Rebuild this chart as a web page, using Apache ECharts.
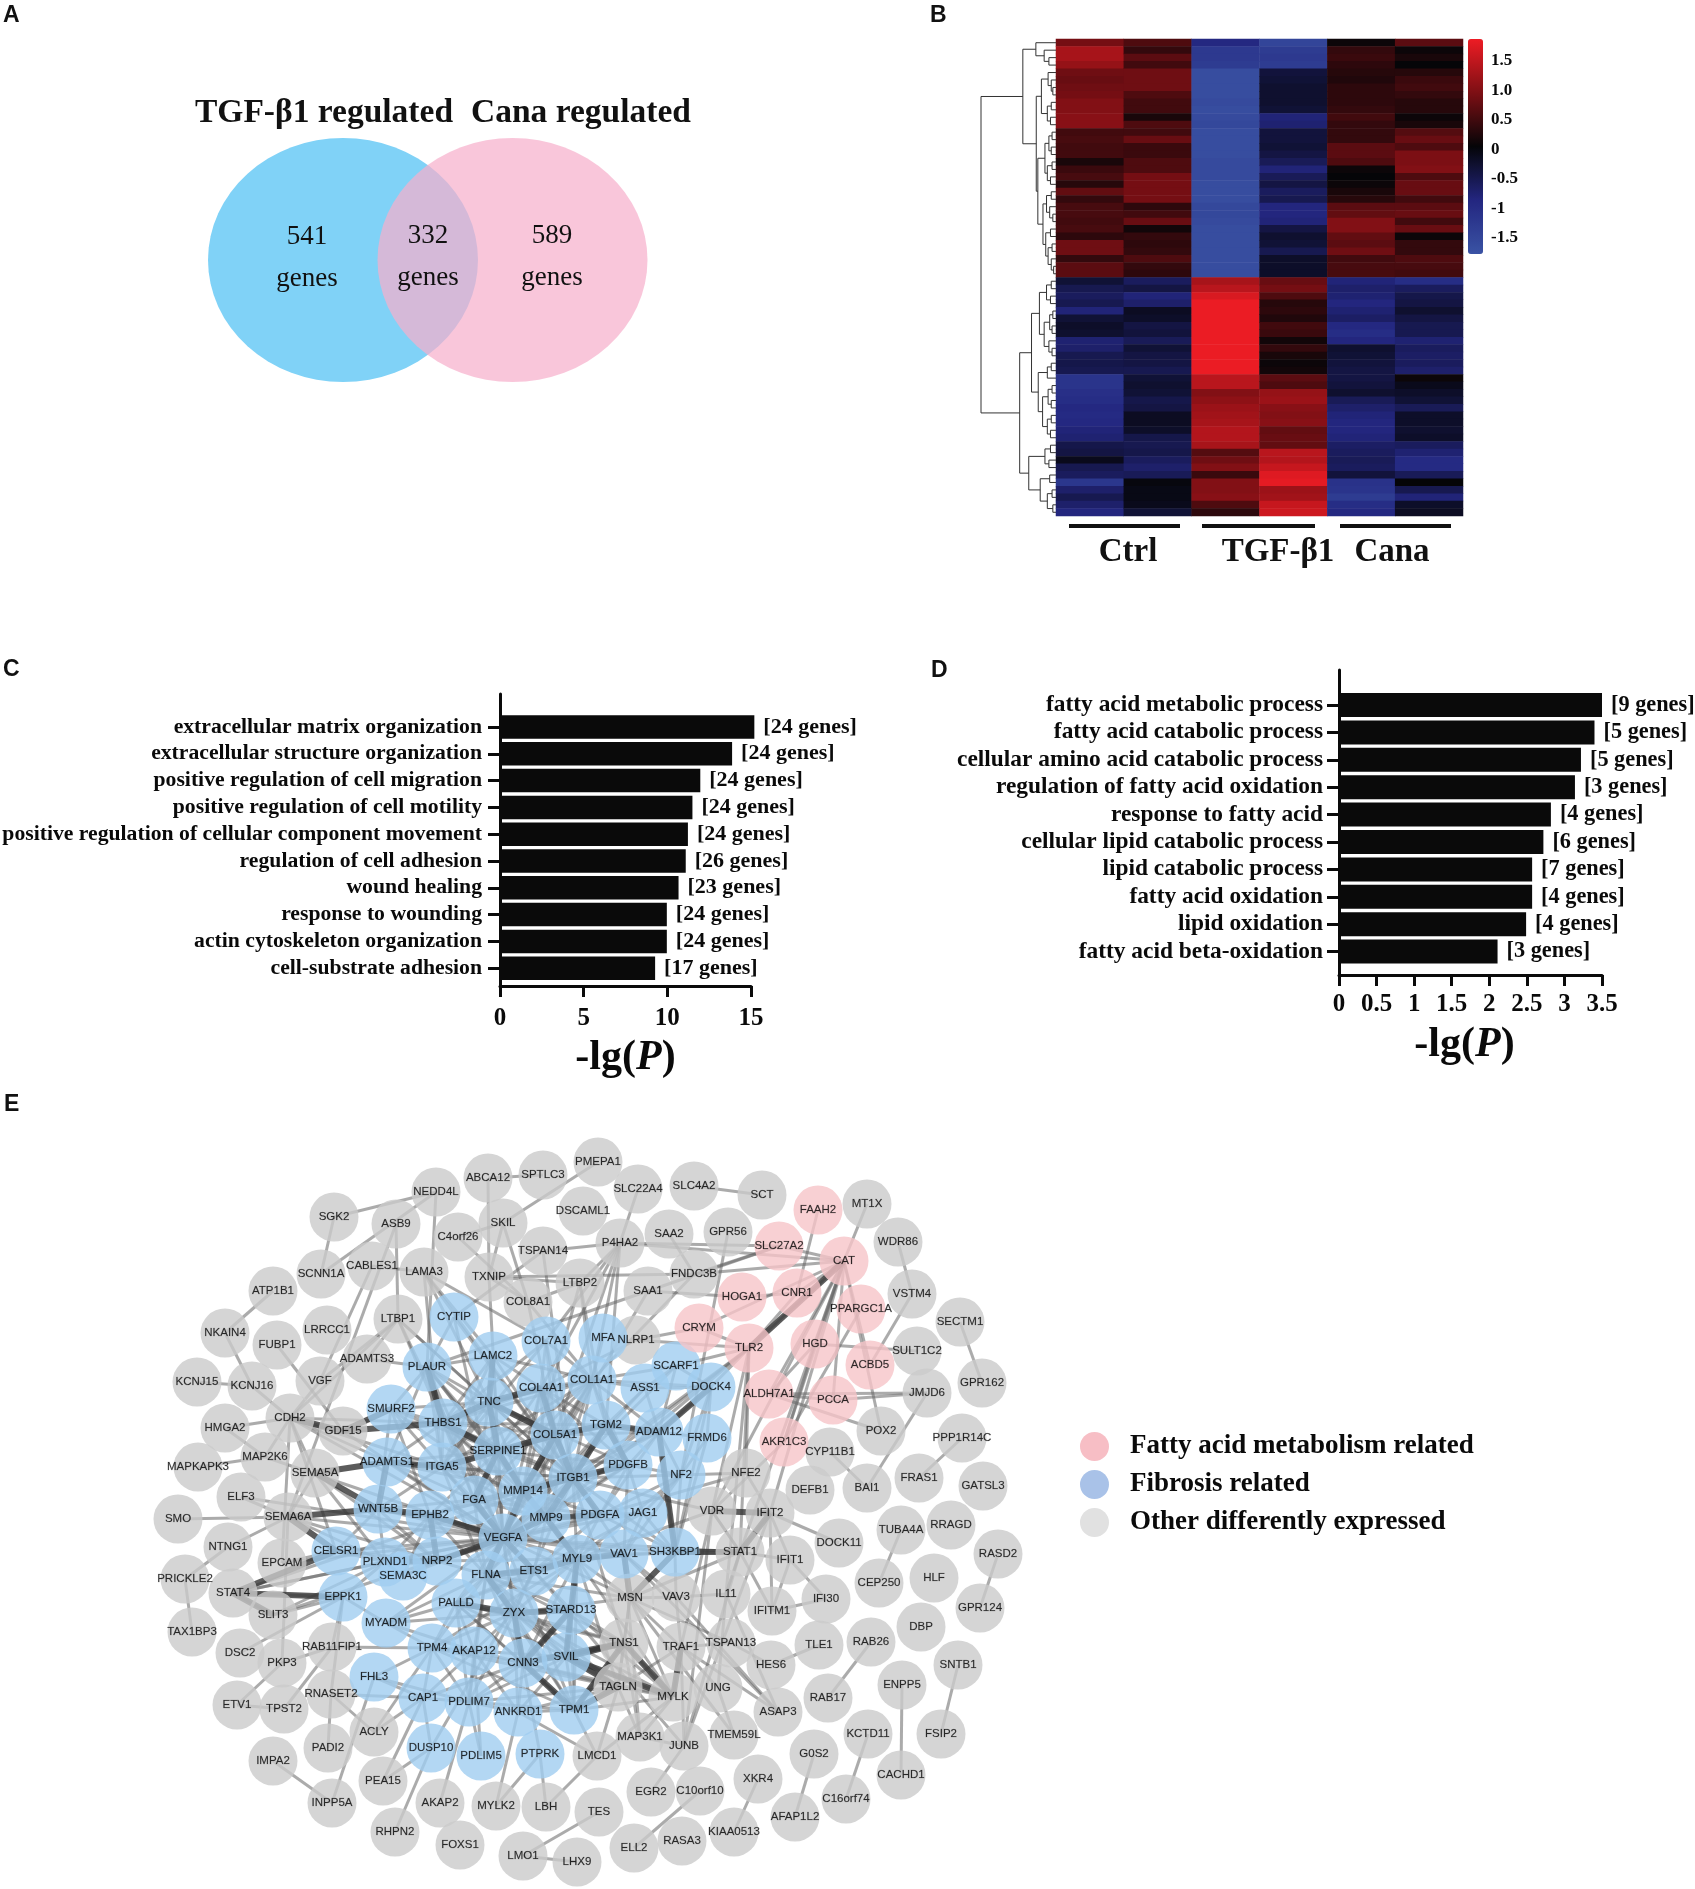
<!DOCTYPE html>
<html><head><meta charset="utf-8">
<style>html,body{margin:0;padding:0;background:#fff}#c{width:1695px;height:1889px}</style>
<script src="https://cdn.jsdelivr.net/npm/echarts@6/dist/echarts.min.js"></script>
</head><body><div id="c"></div>
<script>
// ---------- Panel A
const vennCounts = ['541','332','589'];
// ---------- Panel B (columns of the heat map, top row first)
const heatColumns = ['Ctrl1','Ctrl2','TGF1','TGF2','Cana1','Cana2'];
const ctrl1 = [0.9,1.3,1.3,1.15,0.85,0.8,0.85,0.9,1.0,1.0,1.05,1.05,0.5,0.55,0.5,0.5,0.2,0.45,0.55,0.3,0.75,0.4,0.55,0.55,0.5,0.55,0.35,0.85,0.85,0.4,0.7,0.7,
 -0.3,-0.5,-0.6,-0.5,-0.8,-0.3,-0.2,-0.25,-0.75,-0.7,-0.5,-0.45,-0.5,-1.15,-1.15,-1.05,-1.0,-0.9,-0.95,-0.9,-0.8,-0.75,-0.45,-0.4,-0.1,-0.5,-0.6,-1.2,-0.7,-0.5,-0.7,-0.85];
const ctrl2 = [0.6,0.4,0.7,0.5,0.85,0.85,0.85,0.6,0.5,0.5,0.2,0.6,0.5,0.8,0.45,0.45,0.6,0.6,0.9,0.9,0.9,0.9,0.35,0.5,0.8,0.15,0.4,0.35,0.4,0.6,0.4,0.35,
 -0.6,-0.4,-0.8,-0.7,-0.15,-0.2,-0.4,-0.35,-0.55,-0.3,-0.4,-0.4,-0.5,-0.3,-0.25,-0.3,-0.45,-0.4,-0.15,-0.15,-0.2,-0.45,-0.5,-0.45,-0.6,-0.7,-0.55,0,-0.05,-0.05,-0.1,-0.3];
const tgf1 = [-0.9,-1.25,-1.25,-1.3,-1.65,-1.65,-1.65,-1.65,-1.6,-1.65,-1.6,-1.55,-1.65,-1.65,-1.65,-1.65,-1.6,-1.6,-1.6,-1.65,-1.65,-1.65,-1.55,-1.55,-1.6,-1.65,-1.65,-1.65,-1.65,-1.65,-1.65,-1.65,
 1.3,1.45,1.7,1.85,1.85,1.85,1.85,1.85,1.85,1.85,1.85,1.85,1.85,1.45,1.45,1.0,1.1,1.2,1.25,1.3,1.4,1.4,1.3,0.65,0.85,1.0,0.45,1.0,1.0,1.05,0.6,0.35];
const tgf2 = [-1.5,-1.3,-1.25,-1.3,-0.35,-0.3,-0.25,-0.25,-0.25,-0.3,-0.8,-0.75,-0.35,-0.35,-0.3,-0.4,-0.55,-0.8,-0.55,-0.4,-0.6,-0.5,-0.85,-0.85,-0.8,-0.4,-0.25,-0.3,-0.5,-0.2,-0.2,-0.2,
 0.8,0.9,0.6,0.3,0.35,0.25,0.5,0.45,0.15,0.4,0.2,0.1,0.15,0.7,0.6,1.15,1.2,1.05,1.0,1.05,0.75,0.8,0.75,1.45,1.4,1.55,1.75,1.8,1.2,1.25,1.55,1.6];
const cana1 = [0.1,0.4,0.45,0.35,0.3,0.25,0.35,0.35,0.35,0.4,0.5,0.4,0.4,0.4,0.7,0.7,0.6,0.1,0.05,0.1,0.2,0.3,0.7,0.75,1.0,1.0,0.75,0.7,0.85,0.5,0.55,0.55,
 -0.8,-0.7,-0.75,-0.85,-0.75,-0.65,-0.9,-1.0,-0.85,-0.25,-0.3,-0.35,-0.4,-0.4,-0.35,-0.25,-0.55,-0.7,-0.8,-0.85,-0.85,-0.8,-0.65,-0.6,-0.55,-0.6,-0.35,-1.1,-1.15,-1.3,-1.0,-0.9];
const cana2 = [0.7,0.1,0.2,0.05,0.3,0.45,0.5,0.4,0.3,0.3,0.1,0.2,0.65,0.8,0.6,0.95,0.95,1.0,0.6,0.8,0.8,0.5,0.7,0.8,0.5,0.8,0.1,0.4,0.4,0.6,0.55,0.5,
 -1.0,-0.6,-0.45,-0.4,-0.25,-0.4,-0.5,-0.5,-0.75,-0.6,-0.65,-0.6,-0.7,0.1,-0.1,-0.2,-0.3,-0.55,-0.2,-0.2,-0.25,-0.2,-0.6,-0.75,-0.95,-0.95,-0.55,0.05,-0.5,-0.8,-0.2,-0.15];
const colorbarTicks = [1.5,1,0.5,0,-0.5,-1,-1.5];
const colorbarLabels = ['1.5','1.0','0.5','0','-0.5','-1','-1.5'];
const upperTree = [84,[51,0,[30,1,[18,2,3]]],[50,[37,[20,4,[12,5,[8,6,7]]],[22,[12,8,9],[14,10,11]]],
 [46,[28,[18,[10,12,13],[12,14,15]],[22,[10,16,17],[14,18,19]]],[33,[24,[12,20,21],[16,22,[8,23,24]]],[26,[14,25,26],[20,[10,27,28],[12,29,[6,30,31]]]]]]]];
const lowerTree = [92,[62,[42,[24,[12,32,33],[14,34,35]],[30,[16,[8,36,37],[10,38,39]],[18,40,[10,41,42]]]],[45,[22,[12,43,44],45],[34,[20,[10,46,47],[12,48,49]],[22,[12,50,51],[14,52,53]]]]],
 [69,[28,[14,54,55],[18,56,57]],[40,[16,58,59],[22,[10,60,61],[8,62,63]]]]];
const rootHeight = 190;
// ---------- Panel C
const fibrosisTerms = ['extracellular matrix organization','extracellular structure organization','positive regulation of cell migration','positive regulation of cell motility','positive regulation of cellular component movement','regulation of cell adhesion','wound healing','response to wounding','actin cytoskeleton organization','cell-substrate adhesion'];
const fibrosisP = [15.2,13.87,11.97,11.5,11.23,11.1,10.67,9.97,9.97,9.27];
const fibrosisGenes = [24,24,24,24,24,26,23,24,24,17];
// ---------- Panel D
const fattyTerms = ['fatty acid metabolic process','fatty acid catabolic process','cellular amino acid catabolic process','regulation of fatty acid oxidation','response to fatty acid','cellular lipid catabolic process','lipid catabolic process','fatty acid oxidation','lipid oxidation','fatty acid beta-oxidation'];
const fattyP = [3.5,3.4,3.22,3.14,2.82,2.72,2.57,2.57,2.49,2.11];
const fattyGenes = [9,5,5,3,4,6,7,4,4,3];
// ---------- Panel E: network layout coordinates, one entry per gene
const fattyNodes = {FAAH2:[818,1210],SLC27A2:[779,1246],CAT:[844,1261],HOGA1:[742,1297],CNR1:[797,1293],PPARGC1A:[861,1309],CRYM:[699,1328],TLR2:[749,1348],HGD:[815,1344],ACBD5:[870,1365],ALDH7A1:[769,1394],PCCA:[833,1400],AKR1C3:[784,1442]};
const fibrosisNodes = {CYTIP:[454,1317],COL7A1:[546,1341],MFA:[603,1338],PLAUR:[427,1367],LAMC2:[493,1356],COL4A1:[541,1388],COL1A1:[592,1380],TNC:[489,1402],SMURF2:[391,1409],THBS1:[443,1423],COL5A1:[555,1435],TGM2:[606,1425],SERPINE1:[498,1451],ADAMTS1:[387,1462],ITGA5:[442,1467],ITGB1:[573,1478],MMP14:[523,1491],FGA:[474,1500],WNT5B:[378,1509],EPHB2:[430,1515],MMP9:[546,1518],PDGFA:[600,1515],VEGFA:[503,1538],CELSR1:[336,1551],PLXND1:[385,1562],NRP2:[437,1561],MYL9:[577,1559],ETS1:[534,1571],FLNA:[486,1575],SEMA3C:[403,1576],EPPK1:[343,1597],PALLD:[456,1603],ZYX:[514,1613],STARD13:[571,1610],MYADM:[386,1623],TPM4:[432,1648],AKAP12:[474,1651],SVIL:[566,1657],CNN3:[523,1663],FHL3:[374,1677],CAP1:[423,1698],PDLIM7:[469,1702],ANKRD1:[518,1712],TPM1:[574,1710],DUSP10:[431,1748],PDLIM5:[481,1756],PTPRK:[540,1754],SCARF1:[676,1366],ASS1:[645,1388],DOCK4:[711,1387],ADAM12:[659,1432],FRMD6:[707,1438],PDGFB:[628,1465],NF2:[681,1475],JAG1:[643,1513],VAV1:[624,1554],SH3KBP1:[675,1552]};
const otherNodes = {ABCA12:[488,1178],SPTLC3:[543,1175],PMEPA1:[598,1162],NEDD4L:[436,1192],SGK2:[334,1217],ASB9:[396,1224],C4orf26:[458,1237],SKIL:[503,1223],DSCAML1:[583,1211],TSPAN14:[543,1251],SCNN1A:[321,1274],CABLES1:[372,1266],LAMA3:[424,1272],TXNIP:[489,1277],LTBP2:[580,1283],COL8A1:[528,1302],ATP1B1:[273,1291],LTBP1:[398,1319],LRRCC1:[327,1330],NKAIN4:[225,1333],FUBP1:[277,1345],ADAMTS3:[367,1359],VGF:[320,1381],KCNJ15:[197,1382],KCNJ16:[252,1386],CDH2:[290,1418],HMGA2:[225,1428],GDF15:[343,1431],MAP2K6:[265,1457],MAPKAPK3:[198,1467],SEMA5A:[315,1473],ELF3:[241,1497],SEMA6A:[288,1517],SMO:[178,1519],NTNG1:[228,1547],EPCAM:[282,1563],PRICKLE2:[185,1579],STAT4:[233,1593],SLIT3:[273,1615],TAX1BP3:[192,1632],RAB11FIP1:[332,1647],DSC2:[240,1653],PKP3:[282,1663],RNASET2:[331,1694],ETV1:[237,1705],TPST2:[284,1709],ACLY:[374,1732],PADI2:[328,1748],IMPA2:[273,1761],PEA15:[383,1781],INPP5A:[332,1803],AKAP2:[440,1803],MYLK2:[496,1806],LBH:[546,1807],RHPN2:[395,1832],FOXS1:[460,1845],LMO1:[523,1856],LHX9:[577,1862],
 SLC22A4:[638,1189],SLC4A2:[694,1186],SCT:[762,1195],MT1X:[867,1204],GPR56:[728,1232],P4HA2:[620,1243],SAA2:[669,1234],WDR86:[898,1242],FNDC3B:[694,1274],SAA1:[648,1291],VSTM4:[912,1294],SECTM1:[960,1322],NLRP1:[636,1340],SULT1C2:[917,1351],GPR162:[982,1383],JMJD6:[927,1393],POX2:[881,1431],PPP1R14C:[962,1438],CYP11B1:[830,1452],NFE2:[746,1473],FRAS1:[919,1478],BAI1:[867,1488],DEFB1:[810,1490],GATSL3:[983,1486],VDR:[712,1511],IFIT2:[770,1513],
 RRAGD:[951,1525],TUBA4A:[901,1530],DOCK11:[839,1543],STAT1:[740,1552],RASD2:[998,1554],IFIT1:[790,1560],HLF:[934,1578],CEP250:[879,1583],IL11:[726,1594],VAV3:[676,1597],MSN:[630,1598],IFI30:[826,1599],GPR124:[980,1608],IFITM1:[772,1611],DBP:[921,1627],RAB26:[871,1642],TSPAN13:[731,1643],TNS1:[624,1643],TRAF1:[681,1647],TLE1:[819,1645],HES6:[771,1665],SNTB1:[958,1665],ENPP5:[902,1685],TAGLN:[618,1687],UNG:[718,1688],MYLK:[673,1697],RAB17:[828,1698],ASAP3:[778,1712],FSIP2:[941,1734],KCTD11:[868,1734],MAP3K1:[640,1737],TMEM59L:[734,1735],LMCD1:[597,1756],JUNB:[684,1746],G0S2:[814,1754],CACHD1:[901,1775],XKR4:[758,1779],EGR2:[651,1792],C10orf10:[700,1791],C16orf74:[846,1799],TES:[599,1812],AFAP1L2:[795,1817],KIAA0513:[734,1832],RASA3:[682,1841],ELL2:[634,1848]};
const edgeLists = [
 'SGK2:NEDD4L SCNN1A','SCNN1A:NEDD4L','ABCA12:SPTLC3 TXNIP','SKIL:PMEPA1 C4orf26 COL8A1 TXNIP','ATP1B1:NKAIN4','NKAIN4:KCNJ16','KCNJ15:KCNJ16','KCNJ16:CDH2','HMGA2:CDH2 MAP2K6','CDH2:MAP2K6 VGF LTBP1 GDF15 SEMA5A VEGFA ITGA5 THBS1 CELSR1 FGA','MAP2K6:MAPKAPK3 VEGFA','SMO:SEMA6A','ASB9:LTBP1 SEMA6A','NEDD4L:PLAUR','C4orf26:COL8A1','CABLES1:LAMA3 VGF','FUBP1:GDF15','LTBP1:VGF ADAMTS3 VEGFA THBS1 TNC ITGB1','ADAMTS3:PLAUR','LAMA3:LAMC2 ITGB1 ITGA5 COL7A1 TNC','TSPAN14:P4HA2 ITGB1 CYTIP','TXNIP:COL8A1 VEGFA','COL8A1:LTBP2 COL5A1 COL1A1','LTBP2:TGM2 COL1A1 TXNIP P4HA2 MMP14',
 'SLC4A2:SCT','SLC22A4:P4HA2','P4HA2:SLC27A2 CAT COL1A1 COL4A1 COL7A1 COL5A1 TGM2','FNDC3B:SLC27A2 COL1A1 TXNIP','SAA2:FNDC3B','SAA1:HOGA1 SLC27A2 VEGFA PLAUR','GPR56:NF2','MT1X:CAT','FAAH2:CNR1','SLC27A2:CAT','WDR86:VSTM4','SECTM1:GPR162','VSTM4:ACBD5','SULT1C2:HGD','ALDH7A1:JMJD6 PCCA HGD CAT','PCCA:JMJD6 CAT','JMJD6:BAI1','PPP1R14C:FRAS1','CYP11B1:BAI1','POX2:ALDH7A1 CAT','CAT:CNR1 CRYM TLR2 HGD AKR1C3 ACBD5 IFIT2 FNDC3B STAT1 VDR','HOGA1:CNR1','CRYM:TLR2','TLR2:CNR1 STAT1 NFE2 VEGFA DOCK4 ITGB1 MMP9 VDR IL11 SCARF1','AKR1C3:PPARGC1A HGD VDR','NFE2:NF2 IFIT2 PDGFA','NLRP1:TLR2 CRYM',
 'TUBA4A:CEP250','RASD2:GPR124','RAB26:RAB17','SNTB1:FSIP2','ENPP5:CACHD1','KCTD11:C16orf74','G0S2:AFAP1L2','XKR4:KIAA0513','C10orf10:ELL2','EGR2:JUNB','TES:LMO1','LMO1:LHX9','IMPA2:INPP5A','INPP5A:FHL3','MYLK2:PTPRK ANKRD1','LBH:PTPRK LMCD1','AKAP2:PDLIM7','RHPN2:DUSP10','PEA15:CAP1 DUSP10','ACLY:CAP1 TPM4','PADI2:RNASET2','RNASET2:CAP1 ACLY EPPK1','TPST2:RAB11FIP1 ETV1','ETV1:PKP3','PKP3:RAB11FIP1 SEMA6A','DSC2:EPPK1','TAX1BP3:PRICKLE2','NTNG1:SEMA6A PRICKLE2','STAT4:EPPK1 VEGFA SLIT3 ITGB1 PLXND1','SLIT3:EPPK1 VEGFA PLXND1','RAB11FIP1:TPM4 EPPK1','EPCAM:CDH2 VEGFA CELSR1','SEMA6A:PLXND1 NRP2 VEGFA SEMA5A','SEMA5A:PLXND1 NRP2','ELF3:SEMA6A VEGFA',
 'IFI30:IFITM1','IFIT1:STAT1 IFIT2 IFITM1 IFI30','IFIT2:DOCK11 IFITM1 STAT1','STAT1:VDR IFITM1 VEGFA SH3KBP1 MSN IL11','IL11:VAV3 STAT1 UNG','HES6:TLE1 TSPAN13','ASAP3:VAV3 TRAF1 VAV1 IL11','VDR:STAT1 ITGB1 TRAF1 MYL9','UNG:TRAF1 TMEM59L','TSPAN13:TRAF1 MSN','JUNB:TRAF1 MAP3K1 ETS1 VDR STAT1 IFIT2','MAP3K1:MYLK TAGLN TNS1 VAV1','TMEM59L:MSN','LMCD1:TAGLN TPM1 MYLK','VAV3:VAV1 TRAF1 SH3KBP1','MSN:VEGFA FLNA MYL9 ZYX TAGLN TRAF1 MYLK TNS1 VAV3','TNS1:ZYX FLNA ITGB1 MYLK TPM1 PALLD CNN3 TAGLN STARD13 SVIL','TAGLN:MYLK TPM1 TPM4 CNN3 MYL9 SVIL PDLIM7 ZYX ANKRD1 TRAF1 FLNA','MYLK:MYL9 TPM1 CNN3 TRAF1 STARD13 SVIL ZYX',
 'VEGFA:ITGB1 MMP14 MMP9 FGA THBS1 SERPINE1 COL1A1 COL4A1 COL5A1 TNC ITGA5 PLAUR EPHB2 NRP2 FLNA ETS1 PDGFA PDGFB MYL9 ZYX PALLD WNT5B ADAMTS1 SEMA3C CELSR1 TPM1 CNN3 SH3KBP1 JAG1 VAV1 SMURF2 PLXND1 GDF15 ASS1 TGM2 CYTIP SCARF1',
 'ITGB1:COL1A1 COL4A1 COL5A1 COL7A1 FGA FLNA ITGA5 THBS1 LAMC2 TNC PLAUR SERPINE1 MMP14 MMP9 ZYX TGM2 ADAM12 PDGFB PDGFA NF2 VAV1 MYL9 SH3KBP1 CYTIP ADAMTS1',
 'SERPINE1:PLAUR THBS1 MMP14 MMP9 ITGA5 TNC COL1A1 FGA SMURF2 LAMC2 COL5A1 ADAMTS1 COL4A1 TGM2 EPHB2 PDGFB',
 'THBS1:TNC ITGA5 COL1A1 COL4A1 COL5A1 FGA MMP14 MMP9 ADAMTS1 LAMC2 PLAUR SMURF2 COL7A1 TGM2',
 'TNC:COL1A1 COL5A1 COL4A1 LAMC2 MMP14 ITGA5 PLAUR FGA PDGFB SMURF2',
 'COL1A1:COL4A1 COL5A1 COL7A1 MMP14 MMP9 ITGA5 TGM2 LAMC2 FGA ADAM12 PDGFB MFA ASS1 DOCK4 SCARF1',
 'COL4A1:COL5A1 COL7A1 LAMC2 MMP14 MMP9 PDGFB TGM2 NLRP1','COL5A1:COL7A1 MMP14 TGM2 ADAM12 MMP9','MMP14:MMP9 PLAUR ITGA5 ADAM12 ADAMTS1 PDGFA FGA EPHB2','MMP9:PLAUR ITGA5 FGA PDGFA PDGFB ETS1 MYL9 FLNA SMURF2','PLAUR:ITGA5 FGA CYTIP LAMC2 SMURF2 ADAMTS1','ITGA5:FGA ADAMTS1 WNT5B COL7A1 LAMC2 FLNA','FGA:EPHB2 WNT5B FLNA PDGFA','WNT5B:EPHB2 PLXND1 CELSR1 NRP2 VAV1 SMURF2','EPHB2:NRP2 PLXND1 FLNA SEMA3C SMURF2 PDGFB','NRP2:PLXND1 SEMA3C FLNA CELSR1 PDGFA MYL9','PLXND1:SEMA3C CELSR1 EPPK1','PDGFA:PDGFB JAG1 NF2 ETS1 MYL9 SH3KBP1','PDGFB:ADAM12 NF2 TGM2 JAG1 VAV1','JAG1:NF2 VAV1 SH3KBP1 ETS1','SH3KBP1:VAV1 NF2 DOCK4 MYL9 ADAM12 FRMD6','ADAM12:ASS1 SCARF1 DOCK4 TGM2 FRMD6 NF2 PDGFA','DOCK4:SCARF1 FRMD6 NF2 ASS1','ASS1:SCARF1 TGM2','NF2:FRMD6 VAV1 MYL9',
 'FLNA:ZYX PALLD MYL9 ETS1 TPM4 AKAP12 CNN3 STARD13 PDLIM7 TPM1 SVIL MYADM VAV1','MYL9:ZYX STARD13 ETS1 SVIL TPM1 CNN3 TPM4 VAV1 PALLD','ZYX:PALLD ETS1 STARD13 SVIL CNN3 TPM4 AKAP12 PDLIM7 TPM1 ANKRD1 MYADM','PALLD:ETS1 MYADM TPM4 AKAP12 CNN3 PDLIM7 SVIL TPM1','STARD13:SVIL CNN3 TPM1 ETS1','SVIL:CNN3 TPM1 TPM4 ANKRD1 PDLIM7','CNN3:TPM4 TPM1 PDLIM7 AKAP12 ANKRD1 CAP1','TPM4:AKAP12 TPM1 PDLIM7 CAP1 MYADM FHL3','AKAP12:CAP1 PDLIM7 ANKRD1 MYADM','PDLIM7:CAP1 ANKRD1 FHL3 PDLIM5 TPM1','CAP1:FHL3 DUSP10','ANKRD1:TPM1 LMCD1','PDLIM5:AKAP12','DUSP10:ETS1','PTPRK:CNN3','MYADM:EPPK1 VEGFA'
];
const heavyEdgeLists = ['THBS1:SERPINE1 TNC PLAUR','SERPINE1:TNC COL5A1 ITGA5 FGA MMP14','TNC:COL5A1 COL4A1 LAMC2','COL5A1:COL4A1 TGM2 ITGB1 MMP14','TGM2:ITGB1 ADAM12 PDGFB','ITGB1:MMP14 PDGFB MMP9 PDGFA','MMP14:VEGFA MMP9','MMP9:VEGFA PDGFA MYL9','VEGFA:EPHB2 FGA ETS1 FLNA NRP2','EPHB2:WNT5B NRP2','ADAMTS1:SEMA5A WNT5B ITGA5','SEMA5A:WNT5B','GDF15:SMURF2 CDH2 THBS1','SEMA6A:WNT5B CELSR1','ZYX:PALLD FLNA STARD13 CNN3','STARD13:MYL9 SVIL CNN3','SVIL:TNS1 MYLK TAGLN','CNN3:TNS1 TPM1','TPM1:TAGLN TNS1','MYLK:TNS1 TRAF1','VAV1:MSN MYL9','SH3KBP1:STAT1 MSN ADAM12','STAT4:SLIT3 EPPK1 CELSR1','ETS1:MYL9 FLNA','PLXND1:NRP2','ADAM12:DOCK4','TLR2:CAT','VDR:IFIT2','IFIT2:STAT1'];

// ---------- build
const heatData = [];
[ctrl1,ctrl2,tgf1,tgf2,cana1,cana2].forEach((col,c)=>col.forEach((v,r)=>heatData.push([c,r,v])));
const rowNames = ctrl1.map((_,i)=>String(i));
const dendroSegments = [];
function walk(n){
  if(typeof n==='number') return {d:0,y:n+0.5};
  const a=walk(n[1]), b=walk(n[2]);
  dendroSegments.push([a.d,a.y,n[0],b.y,b.d]);
  return {d:n[0],y:(a.y+b.y)/2};
}
const ua=walk(upperTree), la=walk(lowerTree);
dendroSegments.push([ua.d,ua.y,rootHeight,la.y,la.d]);

const catFatty='Fatty acid metabolism related', catFib='Fibrosis related', catOther='Other differently expressed';
const nodes=[];
const addNodes=(o,ci)=>Object.keys(o).forEach(k=>nodes.push({name:k,value:o[k],category:ci}));
addNodes(otherNodes,2); addNodes(fibrosisNodes,1); addNodes(fattyNodes,0);
const known=new Set(nodes.map(n=>n.name));
const links=[];
edgeLists.forEach(s=>{const [h,t]=s.split(':');t.split(' ').forEach(b=>{if(known.has(h)&&known.has(b)&&h!==b)links.push({source:h,target:b});});});
heavyEdgeLists.forEach(s=>{const [h,t]=s.split(':');t.split(' ').forEach(b=>{if(known.has(h)&&known.has(b)&&h!==b)links.push({source:h,target:b,lineStyle:{width:6,color:'#333',opacity:0.8}});});});

const serif='"Liberation Serif"';
const black='#0a0a0a';
const hiddenAxis=(o)=>Object.assign({show:false},o);
const fixedGrid=(left,top,width,height)=>({left,top,width,height,outerBoundsMode:'none'});
function gAxisName(){return {a:{fontFamily:serif,fontWeight:'bold',fontSize:42,color:black},b:{fontFamily:serif,fontWeight:'bold',fontStyle:'italic',fontSize:42,color:black}};}
function txt(text,x,y,font,align){return {type:'text',silent:true,style:{text,x,y,font,fill:'#111',textAlign:align||'left',textVerticalAlign:'middle'}};}
function groupBar(x1,x2,y){return {type:'line',silent:true,shape:{x1,y1:y,x2,y2:y},style:{stroke:'#111',lineWidth:4}};}

const option={
 animation:false,backgroundColor:'#fff',
 grid:[
  fixedGrid(0,0,850,600),          //0 venn
  fixedGrid(1056,39,407,477),      //1 heat
  fixedGrid(1468,39,15,215),       //2 colorbar
  fixedGrid(981,39,75,477),        //3 dendro
  fixedGrid(500,713.6,251,268),    //4 C bars
  fixedGrid(500,694,251,292),      //5 C axes
  fixedGrid(1339,691.3,263,274),   //6 D bars
  fixedGrid(1339,670,263,305),     //7 D axes
  fixedGrid(140,1100,900,789)      //8 network
 ],
 xAxis:[
  hiddenAxis({gridIndex:0,type:'value',min:0,max:850}),
  hiddenAxis({gridIndex:1,type:'category',data:heatColumns}),
  hiddenAxis({gridIndex:2,type:'value',min:0,max:1}),
  hiddenAxis({gridIndex:3,type:'value',min:0,max:rootHeight,inverse:true}),
  hiddenAxis({gridIndex:4,type:'value',min:0,max:15}),
  {gridIndex:5,type:'value',min:0,max:15,interval:5,splitLine:{show:false},
   axisLine:{show:true,lineStyle:{color:black,width:3}},axisTick:{show:true,length:11,lineStyle:{color:black,width:3}},
   axisLabel:{fontFamily:serif,fontWeight:'bold',fontSize:25,color:black,margin:20},
   name:'{a|-lg(}{b|P}{a|)}',nameLocation:'middle',nameGap:51,nameTextStyle:{rich:gAxisName()}},
  hiddenAxis({gridIndex:6,type:'value',min:0,max:3.5}),
  {gridIndex:7,type:'value',min:0,max:3.5,interval:0.5,splitLine:{show:false},
   axisLine:{show:true,lineStyle:{color:black,width:3}},axisTick:{show:true,length:11,lineStyle:{color:black,width:3}},
   axisLabel:{fontFamily:serif,fontWeight:'bold',fontSize:25,color:black,margin:17,hideOverlap:false,formatter:v=>String(v)},
   name:'{a|-lg(}{b|P}{a|)}',nameLocation:'middle',nameGap:49,nameTextStyle:{padding:[0,12,0,0],rich:gAxisName()}},
  hiddenAxis({gridIndex:8,type:'value',min:140,max:1040})
 ],
 yAxis:[
  hiddenAxis({gridIndex:0,type:'value',min:0,max:600,inverse:true}),
  hiddenAxis({gridIndex:1,type:'category',data:rowNames,inverse:true}),
  {gridIndex:2,type:'value',min:-1.775,max:1.87,position:'right',splitLine:{show:false},axisLine:{show:false},axisTick:{show:false},
   axisLabel:{customValues:colorbarTicks,margin:8,fontFamily:serif,fontWeight:'bold',fontSize:17,color:black,
    formatter:v=>colorbarLabels[colorbarTicks.indexOf(v)]}},
  hiddenAxis({gridIndex:3,type:'value',min:0,max:rowNames.length,inverse:true}),
  {gridIndex:4,type:'category',inverse:true,data:fibrosisTerms,axisLine:{show:false},
   axisTick:{show:true,alignWithLabel:true,length:12,lineStyle:{color:black,width:3}},
   axisLabel:{interval:0,margin:18,fontFamily:serif,fontWeight:'bold',fontSize:21.7,color:black,padding:[0,0,4,0]}},
  {gridIndex:5,type:'value',min:0,max:1,axisLine:{show:true,lineStyle:{color:black,width:3}},axisTick:{show:false},axisLabel:{show:false},splitLine:{show:false}},
  {gridIndex:6,type:'category',inverse:true,data:fattyTerms,axisLine:{show:false},
   axisTick:{show:true,alignWithLabel:true,length:12,lineStyle:{color:black,width:3}},
   axisLabel:{interval:0,margin:16,fontFamily:serif,fontWeight:'bold',fontSize:23.4,color:black}},
  {gridIndex:7,type:'value',min:0,max:1,axisLine:{show:true,lineStyle:{color:black,width:3}},axisTick:{show:false},axisLabel:{show:false},splitLine:{show:false}},
  hiddenAxis({gridIndex:8,type:'value',min:1100,max:1889,inverse:true})
 ],
 visualMap:[{type:'continuous',seriesIndex:3,dimension:2,min:-1.775,max:1.87,left:1468,top:39,padding:0,itemWidth:15,itemHeight:215,
   calculable:false,showLabel:false,text:null,inRange:{color:['#3A53A4','#232680','#050508','#7d0f14','#ED1C24']}}],
 legend:{orient:'vertical',left:1080,top:1432,padding:0,itemWidth:29,itemHeight:29,itemGap:9,selectedMode:false,
   textStyle:{fontFamily:serif,fontWeight:'bold',fontSize:27,color:black,padding:[0,0,0,16]},
   data:[{name:catFatty,icon:'circle',itemStyle:{color:'#F7BEC5',opacity:1}},{name:catFib,icon:'circle',itemStyle:{color:'#A9C2E8',opacity:1}},{name:catOther,icon:'circle',itemStyle:{color:'#E1E1E1',opacity:1}}]},
 graphic:[
  txt('A',3,16,'bold 23px "Liberation Sans"'),txt('B',930,16,'bold 23px "Liberation Sans"'),
  txt('C',3,670,'bold 23px "Liberation Sans"'),txt('D',931,671,'bold 23px "Liberation Sans"'),txt('E',4,1105,'bold 23px "Liberation Sans"'),
  txt('TGF-β1 regulated',195,113,'bold 33.5px '+serif),txt('Cana regulated',471,113,'bold 33.5px '+serif),
  groupBar(1069,1180,526),groupBar(1202,1315,526),groupBar(1340,1451,526),
  txt('Ctrl',1128,552,'bold 33px '+serif,'center'),txt('TGF-β1',1278,552,'bold 33px '+serif,'center'),txt('Cana',1392,552,'bold 33px '+serif,'center')
 ],
 series:[
  {type:'scatter',xAxisIndex:0,yAxisIndex:0,silent:true,symbol:'circle',symbolSize:[270,244],data:[[343,260]],itemStyle:{color:'#80D2F7',opacity:1}},
  {type:'scatter',xAxisIndex:0,yAxisIndex:0,silent:true,symbol:'circle',symbolSize:[270,244],data:[[512.5,260]],itemStyle:{color:'rgb(247,175,203)',opacity:0.717}},
  {type:'scatter',xAxisIndex:0,yAxisIndex:0,silent:true,symbolSize:1,itemStyle:{opacity:0},
   data:[[307,258,0],[428,257,1],[552,257,2]],
   label:{show:true,position:'inside',color:'#111',fontFamily:serif,fontSize:27,lineHeight:42,opacity:1,formatter:p=>vennCounts[p.data[2]]+'\ngenes'}},
  {type:'heatmap',xAxisIndex:1,yAxisIndex:1,silent:true,data:heatData,progressive:0,itemStyle:{borderWidth:0}},
  {type:'custom',xAxisIndex:3,yAxisIndex:3,silent:true,data:dendroSegments,clip:false,
   renderItem:(p,api)=>{const a=api.coord([api.value(0),api.value(1)]),b=api.coord([api.value(2),api.value(1)]),c=api.coord([api.value(2),api.value(3)]),d=api.coord([api.value(4),api.value(3)]);
     return {type:'polyline',shape:{points:[a,b,c,d]},style:{stroke:'#333',lineWidth:1,fill:null}};}},
  {type:'bar',xAxisIndex:4,yAxisIndex:4,silent:true,clip:false,barWidth:23.5,data:fibrosisP,itemStyle:{color:black},
   label:{show:true,position:'right',distance:9,fontFamily:serif,fontWeight:'bold',fontSize:22,color:black,formatter:p=>'['+fibrosisGenes[p.dataIndex]+' genes]'}},
  {type:'bar',xAxisIndex:6,yAxisIndex:6,silent:true,clip:false,barWidth:24,data:fattyP,itemStyle:{color:black},
   label:{show:true,position:'right',distance:9,fontFamily:serif,fontWeight:'bold',fontSize:22.3,color:black,formatter:p=>'['+fattyGenes[p.dataIndex]+' genes]'}},
  {type:'graph',coordinateSystem:'cartesian2d',xAxisIndex:8,yAxisIndex:8,layout:'none',silent:true,roam:false,symbol:'circle',symbolSize:49,
   categories:[{name:catFatty,itemStyle:{color:'rgb(246,196,200)',opacity:0.8}},{name:catFib,itemStyle:{color:'rgb(160,205,240)',opacity:0.8}},{name:catOther,itemStyle:{color:'rgb(202,202,202)',opacity:0.8}}],
   data:nodes,links:links,
   lineStyle:{color:'#666',width:3,opacity:0.55,curveness:0},
   label:{show:true,position:'inside',fontFamily:'"Liberation Sans"',fontSize:11.5,color:'#000',textBorderColor:'rgba(0,0,0,0.3)',textBorderWidth:0.5}}
 ]
};
const chart=echarts.init(document.getElementById('c'),null,{renderer:'canvas',width:1695,height:1889});
chart.setOption(option);
</script></body></html>
